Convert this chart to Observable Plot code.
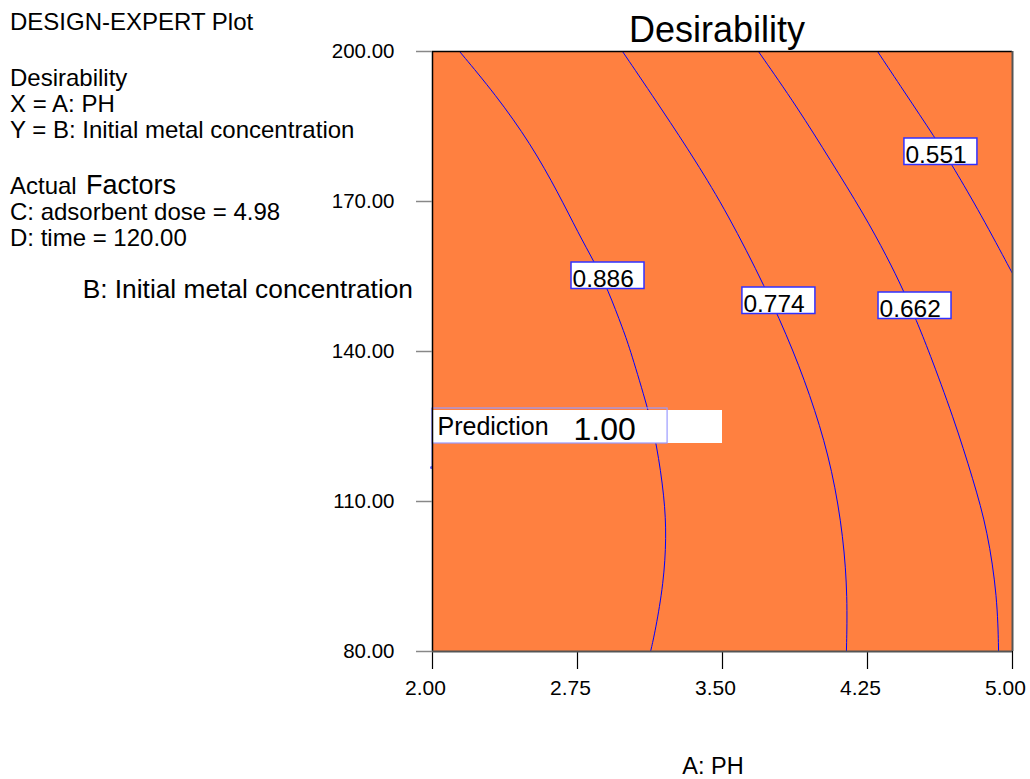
<!DOCTYPE html>
<html><head><meta charset="utf-8">
<script src="https://cdn.jsdelivr.net/npm/d3@7"></script>
<script src="https://cdn.jsdelivr.net/npm/@observablehq/plot@0.6"></script>
<style>body{margin:0;background:#fff;} svg{display:block;}</style>
</head><body><div id="chart"></div>
<script>
// ---- data ----
const xTicks = [2.00, 2.75, 3.50, 4.25, 5.00];
const yTicks = [80, 110, 140, 170, 200];
const contourLevels = ["0.886", "0.774", "0.662", "0.551"];
const contour886 = [[2.140,200],[2.326,191.4],[2.507,181.6],[2.652,171.6],[2.755,163.6],[2.838,157.8],[2.905,152.6],[2.988,144.2],[3.024,140.2],[3.117,128.2],[3.159,121.6],[3.200,110.8],[3.210,102.8],[3.195,93.6],[3.153,84.2],[3.128,80]];
const contour774 = [[2.983,200],[3.190,188.2],[3.360,178.2],[3.526,167.6],[3.722,152.8],[3.867,140.2],[3.981,128.2],[4.069,116.2],[4.126,102.8],[4.147,90.8],[4.141,80]];
const contour662 = [[3.686,200],[3.888,188.8],[4.059,178.2],[4.229,167.6],[4.353,158.8],[4.436,152.2],[4.503,146.2],[4.566,140.2],[4.695,126.8],[4.798,114.2],[4.871,104.2],[4.922,90.8],[4.928,80]];
const contour551 = [[4.302,200],[4.436,192.2],[4.602,182.6],[4.695,176.8],[4.834,167.6],[5.0,155.6]];
const labelX = [2.719, 3.603, 4.307, 4.441];
const labelY = [157.8, 152.8, 151.8, 182.6];
const predX = 2.00, predY = 116.8, predValue = "1.00";

// ---- build tables ----
const contours = [contour886, contour774, contour662, contour551];
const lineData = contours.flatMap((c, i) => c.map(([x, y]) => ({level: contourLevels[i], x, y})));
const labels = contourLevels.map((level, i) => ({level, x: labelX[i], y: labelY[i]}));

const W = 1030, H = 779, mL = 432, mR = 18, mT = 51, mB = 128;
const pxX = 3 / (W - mL - mR);   // data units per pixel (x)
const pxY = 120 / (H - mT - mB); // data units per pixel (y)
const font = "'Liberation Sans', Arial, Helvetica, sans-serif";

const chart = Plot.plot({
  width: W, height: H,
  marginLeft: mL, marginRight: mR, marginTop: mT, marginBottom: mB,
  style: {fontFamily: font, fontSize: "20px", background: "#fff", color: "#000"},
  x: {domain: [2, 5]},
  y: {domain: [80, 200]},
  marks: [
    Plot.frame({fill: "#FF8040", stroke: null}),
    Plot.line(lineData, {x: "x", y: "y", z: "level", stroke: "#0000FF", strokeWidth: 1, curve: "basis", clip: true}),
    // contour labels
    Plot.rect(labels, {x1: "x", x2: d => d.x + 73 * pxX, y1: "y", y2: d => d.y - 26.5 * pxY, fill: "#fff", stroke: "#3030FF", strokeWidth: 1.5}),
    Plot.text(labels, {x: "x", y: d => d.y - 24.5 * pxY, text: "level", textAnchor: "start", lineAnchor: "bottom", dx: 1, fontSize: 24.5, fill: "#000"}),
    // prediction flag
    Plot.rect([predX], {x1: d => d, x2: 3.5, y1: 128.2, y2: 121.6, fill: "#fff"}),
    Plot.rect([predX], {x1: d => d, x2: 3.216, y1: 128.6, y2: 121.6, fill: "none", stroke: "#9A9AFF", strokeWidth: 1.2}),
    Plot.ruleX([predX], {y1: predY, y2: 128.6, stroke: "#9A9AFF", strokeWidth: 1.2, dx: -0.5}),
    Plot.dot([predX], {x: d => d, y: predY, r: 1.5, fill: "#6060FF", stroke: null, dx: -1}),
    Plot.text([predX], {x: d => d, y: 123.4, text: () => "Prediction", textAnchor: "start", lineAnchor: "bottom", dx: 5, fontSize: 25, fill: "#000"}),
    Plot.text([predValue], {x: 2.729, y: 122.4, text: d => d, textAnchor: "start", lineAnchor: "bottom", fontSize: 32, fill: "#000"}),
    // frame edges
    Plot.ruleX([2], {stroke: "#000", strokeWidth: 1.5}),
    Plot.ruleY([200], {stroke: "#000", strokeWidth: 1.5}),
    Plot.ruleX([5], {stroke: "#555", strokeWidth: 2}),
    // x ticks and labels
    Plot.ruleX(xTicks, {y1: 80, y2: 80 - 18 * pxY, stroke: "#000", strokeWidth: 1.2}),
    Plot.axisX({ticks: xTicks, tickFormat: d3.format(".2f"), tickSize: 0, tickPadding: 29, fontSize: 21, dx: -7, label: null}),
    Plot.ruleY([80], {stroke: "#555", strokeWidth: 2}),
    Plot.axisY({ticks: yTicks, tickFormat: d3.format(".2f"), tickSize: 16, tickPadding: 22, fontSize: 20.5, stroke: "#888", strokeWidth: 1.5, label: null})
  ]
});

document.getElementById("chart").appendChild(chart);

// ---- surrounding texts ----
const svg = d3.select(chart);
const g = svg.append("g").attr("font-family", font).attr("fill", "#000");
const addText = (x, y, t, size, anchor = "start") =>
  g.append("text").attr("x", x).attr("y", y).attr("font-size", size).attr("text-anchor", anchor).text(t);
addText(10, 30, "DESIGN-EXPERT Plot", 24);
addText(10, 86, "Desirability", 24);
addText(10, 112, "X = A: PH", 24);
addText(10, 138, "Y = B: Initial metal concentration", 24);
addText(10, 194, "Actual", 24);
addText(86, 194, "Factors", 27);
addText(10, 220, "C: adsorbent dose = 4.98", 24);
addText(10, 246, "D: time = 120.00", 24);
addText(413, 298, "B: Initial metal concentration", 26.3, "end");
addText(717, 42, "Desirability", 36, "middle");
addText(713, 774, "A: PH", 23.5, "middle");
</script>
</body></html>
